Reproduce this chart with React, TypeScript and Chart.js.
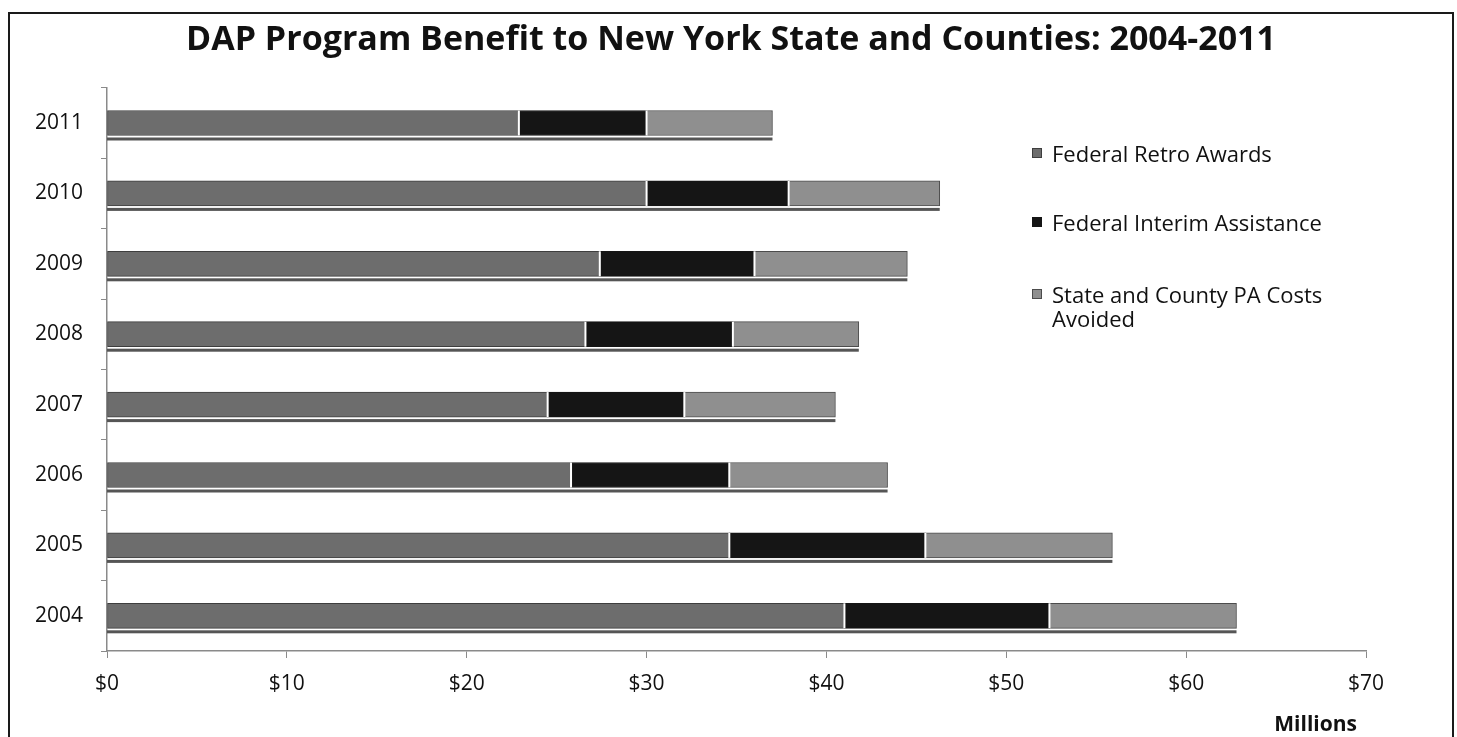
import React, { useEffect, useRef } from 'react';
import { Chart, registerables } from 'chart.js';

Chart.register(...registerables);

const chartTitle = 'DAP Program Benefit to New York State and Counties: 2004-2011';
const axisUnit = 'Millions';
const years = ['2011', '2010', '2009', '2008', '2007', '2006', '2005', '2004'];
const federalRetroAwards = [22.9, 30.0, 27.4, 26.6, 24.5, 25.8, 34.6, 41.0];
const federalInterimAssistance = [7.1, 7.9, 8.6, 8.2, 7.6, 8.8, 10.9, 11.4];
const stateCountyCostsAvoided = [7.0, 8.4, 8.5, 7.0, 8.4, 8.8, 10.4, 10.4];
const seriesNames = ['Federal Retro Awards', 'Federal Interim Assistance', 'State and County PA Costs Avoided'];
const seriesColors = ['#6d6d6d', '#151515', '#8f8f8f'];
const seriesBorders = ['#3e3e3e', '#151515', '#4c4c4c'];
const xMin = 0;
const xMax = 70;
const xStep = 10;

const FONT = '"Open Sans"';
const W = 1442;
const H = 723;

const barDecor = {
  id: 'barDecor',
  afterDatasetsDraw(chart: any) {
    const ctx = chart.ctx;
    const n = chart.data.datasets.length;
    const x0 = chart.scales.x.getPixelForValue(0);
    ctx.save();
    for (let d = 0; d < n - 1; d++) {
      const meta = chart.getDatasetMeta(d);
      meta.data.forEach((bar: any) => {
        const { x, y, height } = bar.getProps(['x', 'y', 'height'], true);
        ctx.fillStyle = '#ffffff';
        ctx.fillRect(x - 1, y - height / 2, 2, height);
      });
    }
    const last = chart.getDatasetMeta(n - 1);
    last.data.forEach((bar: any) => {
      const { x, y, height } = bar.getProps(['x', 'y', 'height'], true);
      ctx.fillStyle = '#555555';
      ctx.fillRect(x0, y + height / 2 + 2, x - x0, 3);
    });
    ctx.restore();
  },
};

export default function App() {
  const ref = useRef<HTMLCanvasElement>(null);

  useEffect(() => {
    let chart: Chart | null = null;
    let cancelled = false;
    const make = () => {
      if (cancelled || !ref.current) return;
      Chart.defaults.font.family = FONT;
      const values = [federalRetroAwards, federalInterimAssistance, stateCountyCostsAvoided];
      chart = new Chart(ref.current, {
        type: 'bar',
        data: {
          labels: years,
          datasets: seriesNames.map((name, i) => ({
            label: name,
            data: values[i],
            yAxisID: 'y',
            backgroundColor: seriesColors[i],
            borderColor: seriesBorders[i],
            borderWidth: 1,
            borderSkipped: false,
            barThickness: 25,
          })),
        },
        options: {
          indexAxis: 'y',
          responsive: false,
          animation: false,
          layout: { padding: { left: 0, right: 0, top: 6, bottom: 0 } },
          plugins: {
            legend: { display: false },
            tooltip: { enabled: false },
            title: {
              display: true,
              text: chartTitle,
              color: '#111111',
              font: { family: FONT, size: 34, weight: 'bold', lineHeight: 1.2 },
              padding: { top: 0, bottom: 27 },
            },
          },
          scales: {
            x: {
              stacked: true,
              min: xMin,
              max: xMax,
              ticks: {
                stepSize: xStep,
                autoSkip: false,
                maxRotation: 0,
                callback: (v: any) => '$' + v,
                color: '#111111',
                font: { family: FONT, size: 21 },
                padding: 13,
              },
              grid: { drawOnChartArea: false, drawTicks: true, tickLength: 7, color: '#8a8a8a' },
              border: { color: '#8a8a8a', width: 1.5 },
              afterFit: (s: any) => {
                s.height = 86;
              },
            },
            y: {
              stacked: true,
              position: 'left',
              ticks: {
                autoSkip: false,
                color: '#111111',
                font: { family: FONT, size: 21 },
                padding: 18,
              },
              grid: { drawOnChartArea: false, drawTicks: true, tickLength: 6, color: '#8a8a8a', offset: true },
              border: { color: '#8a8a8a', width: 1.5 },
              afterFit: (s: any) => {
                s.width = 97;
              },
            },
            ySpace: {
              type: 'category',
              position: 'right',
              ticks: { display: false },
              grid: { display: false, drawTicks: false },
              border: { display: false },
              afterFit: (s: any) => {
                s.width = 86;
              },
            },
          },
        },
        plugins: [barDecor],
      } as any);
    };
    const fontsReady = (document as any).fonts
      ? Promise.all([
          (document as any).fonts.load('bold 34px "Open Sans"'),
          (document as any).fonts.load('21px "Open Sans"'),
        ])
      : Promise.resolve();
    fontsReady.then(make, make);
    return () => {
      cancelled = true;
      if (chart) chart.destroy();
    };
  }, []);

  const legendTops = [127, 196, 268];

  return (
    <div style={{ position: 'fixed', inset: 0, overflow: 'hidden', background: '#fff' }}>
      <div
        style={{
          position: 'absolute',
          left: 8,
          top: 12,
          width: W + 4,
          height: H + 20,
          boxSizing: 'border-box',
          border: '2px solid #1a1a1a',
        }}
      >
        <div style={{ position: 'relative', width: W, height: H }}>
          <canvas ref={ref} width={W} height={H} style={{ width: W, height: H, display: 'block' }} />
          {seriesNames.map((name, i) => (
            <div
              key={name}
              style={{
                position: 'absolute',
                left: 1022,
                top: legendTops[i],
                fontFamily: FONT,
                fontSize: 22,
                lineHeight: '24px',
                color: '#111',
                width: 340,
              }}
            >
              <span
                style={{
                  position: 'absolute',
                  left: 0,
                  top: 7,
                  width: 10,
                  height: 10,
                  boxSizing: 'border-box',
                  background: seriesColors[i],
                  border: '1px solid ' + seriesBorders[i],
                }}
              />
              <div style={{ marginLeft: 20 }}>
                {i === 2 ? (
                  <>
                    State and County PA Costs
                    <br />
                    Avoided
                  </>
                ) : (
                  name
                )}
              </div>
            </div>
          ))}
          <div
            style={{
              position: 'absolute',
              right: 95,
              top: 696,
              fontFamily: FONT,
              fontWeight: 'bold',
              fontSize: 21,
              lineHeight: '26px',
              color: '#111',
            }}
          >
            {axisUnit}
          </div>
        </div>
      </div>
    </div>
  );
}
